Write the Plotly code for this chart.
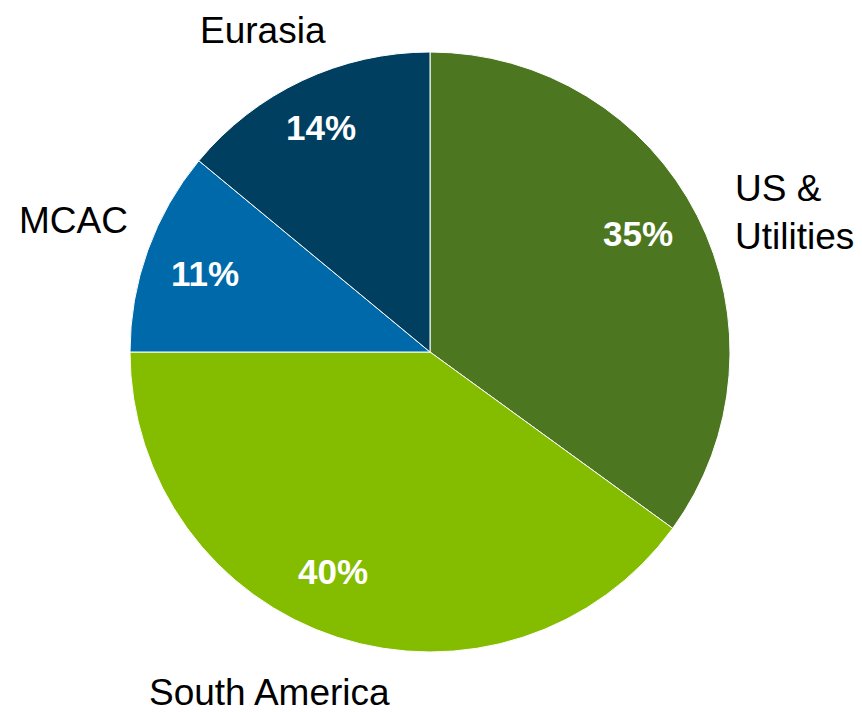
import plotly.graph_objects as go

categories = ["US &<br>Utilities", "South America", "MCAC", "Eurasia"]
values = [35, 40, 11, 14]
colors = ["#4D7620", "#84BD00", "#0069A9", "#003F5F"]

OFF = 8  # page body margin offset in screenshot
W, H = 862 - OFF, 712 - OFF

def px(x):
    return (x - OFF) / W

def py(y):
    return 1 - (y - OFF) / H

fig = go.Figure(go.Pie(
    labels=categories,
    values=values,
    sort=False,
    direction="clockwise",
    rotation=0,
    marker=dict(colors=colors, line=dict(color="white", width=1)),
    textinfo="none",
    showlegend=False,
    hoverinfo="label+percent",
    domain=dict(x=[px(130), px(730)], y=[py(652), py(52)]),
))

total = sum(values)
pct_pos = [(638, 233), (333, 571), (205, 273), (321, 127)]
label_pos = [(733, 212, "left"), (269, 692, "center"), (73, 220, "center"), (263, 30, "center")]

for cat, v, (x, y), (lx, ly, al) in zip(categories, values, pct_pos, label_pos):
    fig.add_annotation(
        x=px(x), y=py(y), xref="paper", yref="paper",
        text=f"{round(v / total * 100)}%", showarrow=False,
        xanchor="center", yanchor="middle",
        font=dict(family="Liberation Sans, Arial", size=35, color="white", weight="bold"),
    )
    fig.add_annotation(
        x=px(lx), y=py(ly), xref="paper", yref="paper",
        text=cat, showarrow=False, xanchor=al, yanchor="middle", align="left",
        font=dict(family="Liberation Sans, Arial", size=37, color="black"),
    )

fig.update_layout(
    width=W, height=H,
    margin=dict(l=0, r=0, t=0, b=0),
    paper_bgcolor="white", plot_bgcolor="white",
)

fig.write_html("out.html")
